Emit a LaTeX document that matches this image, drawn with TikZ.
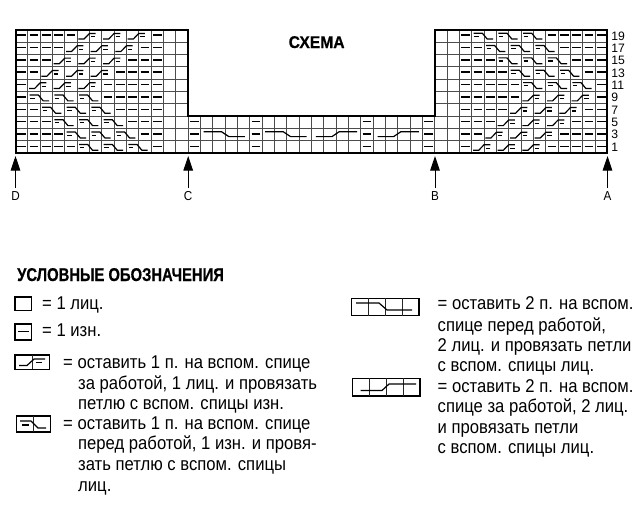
\documentclass[tikz,border=0pt]{standalone}
\usepackage{fontspec}
\usetikzlibrary{arrows.meta}
\setmainfont{Liberation Sans}
\newfontfamily\narrowfont[FakeStretch=0.90]{Liberation Sans}
\newfontfamily\headfont[FakeStretch=0.80,FakeBold=0.5]{Liberation Sans Bold}
\newfontfamily\titlefont[FakeStretch=0.92,FakeBold=0.5]{Liberation Sans Bold}
\tikzset{
  gridline/.style={draw=black!70,line width=0.9pt},
  outline/.style={draw=black,line width=2pt,line join=miter},
  dashmark/.style={draw=black,line width=1.5pt},
  stitch/.style={draw=black,line width=1.2pt,line join=round},
  legendbox/.style={draw=black,line width=1.2pt},
  legendgrid/.style={draw=black!85,line width=1pt},
  notetext/.style={anchor=base west,inner sep=0pt,font=\narrowfont\fontsize{18.5}{20}\selectfont},
  headtext/.style={anchor=base west,inner sep=0pt},
  rownum/.style={anchor=west,inner sep=0pt,font=\fontsize{12.2}{12.2}\selectfont},
  arrowlab/.style={inner sep=0pt,font=\narrowfont\fontsize{13}{14}\selectfont},
  marker/.style={draw=black,line width=1pt,-{Triangle[length=14.5pt,width=9.5pt]}}
}
\newcommand{\dsh}[2]{\draw[dashmark] (#1+.15,#2+.44) -- (#1+.85,#2+.44);}
\newcommand{\ups}[2]{%
  \draw[stitch] (#1+.1,#2+.76) -- (#1+.55,#2+.76) -- (#1+1,#2+.3) -- (#1+1.5,#2+.3);
  \draw[stitch] (#1+1.12,#2+.58) -- (#1+1.46,#2+.58);}
\newcommand{\dns}[2]{%
  \draw[stitch] (#1+.15,#2+.28) -- (#1+.85,#2+.28) -- (#1+1.25,#2+.76) -- (#1+1.72,#2+.76);
  \draw[stitch] (#1+.2,#2+.54) -- (#1+.55,#2+.54);}
% one chart row: #1 = up/down macro, #2 = row, #3 = first dash col, #4 = first cable col, #5 = last dash col
\newcommand{\chartrow}[5]{%
  \pgfmathtruncatemacro{\rla}{#4-1}%
  \pgfmathtruncatemacro{\rsb}{#4+2}%
  \pgfmathtruncatemacro{\rsc}{#4+4}%
  \pgfmathtruncatemacro{\rsd}{#4+6}%
  \foreach \cc in {#3,...,\rla} {\dsh{\cc}{#2}}%
  #1{#4}{#2}#1{\rsb}{#2}#1{\rsc}{#2}%
  \foreach \cc in {\rsd,...,#5} {\dsh{\cc}{#2}}%
}
\begin{document}
\begin{tikzpicture}[x=1pt,y=-1pt]
\useasboundingbox (0,0) rectangle (639,506);
\fill[white] (0,0) rectangle (639,506);
\begin{scope}[shift={(15.5,29.7)},x=12.333pt,y=-12.36pt]
  % grid
  \foreach \cc in {1,...,13,35,36,...,47} {\draw[gridline] (\cc,0) -- (\cc,10);}
  \foreach \cc in {14,...,34} {\draw[gridline] (\cc,7) -- (\cc,10);}
  \foreach \rr in {1,...,7} {\draw[gridline] (0,\rr) -- (14,\rr); \draw[gridline] (34,\rr) -- (48,\rr);}
  \foreach \rr in {8,9} {\draw[gridline] (0,\rr) -- (48,\rr);}
  \draw[outline] (0,0) -- (14,0) -- (14,7) -- (34,7) -- (34,0) -- (48,0) -- (48,10) -- (0,10) -- cycle;
  % left panel
  \foreach \rr/\aa in {0/5,1/4,2/3,3/2,4/1} {\chartrow{\ups}{\rr}{0}{\aa}{11}}
  \foreach \rr/\aa in {5/1,6/2,7/3,8/4,9/5} {\chartrow{\dns}{\rr}{0}{\aa}{11}}
  % right panel
  \foreach \rr/\aa in {0/37,1/38,2/39,3/40,4/41} {\chartrow{\dns}{\rr}{36}{\aa}{47}}
  \foreach \rr/\aa in {5/41,6/40,7/39,8/38,9/37} {\chartrow{\ups}{\rr}{36}{\aa}{47}}
  % middle panel
  \foreach \cc in {14,19,28,33} {\foreach \rr in {7,8,9} {\dsh{\cc}{\rr}}}
  \foreach \cc in {15,20} {
    \draw[stitch] (\cc+.25,8.25) -- (\cc+1.7,8.25) -- (\cc+2.3,8.65) -- (\cc+3.6,8.65);}
  \foreach \cc in {24,29} {
    \draw[stitch] (\cc+.36,8.65) -- (\cc+1.66,8.65) -- (\cc+2.25,8.25) -- (\cc+3.7,8.25);}
  % row numbers
  \foreach \nn/\rr in {19/0,17/1,15/2,13/3,11/4,9/5,7/6,5/7,3/8,1/9} {
    \node[rownum] (row\nn) at (48.3,\rr+.5) {\nn};}
\end{scope}
\node[headtext] (title) at (288.5,48) {\titlefont\fontsize{17}{18}\selectfont СХЕМА};
% arrows
\foreach \nn/\xx/\lab in {d/15.5/D,c/188.2/C,b/435/B,a/607.5/A}{
  \coordinate (tail\nn) at (\xx,188);
  \coordinate (tip\nn) at (\xx,156);
  \draw[marker] (tail\nn) -- (tip\nn);
  \node[arrowlab] (lab\nn) at (\xx,196.5) {\lab};
}
% legend
\node[headtext] (legendhead) at (17,281) {\headfont\fontsize{18.5}{18}\selectfont УСЛОВНЫЕ ОБОЗНАЧЕНИЯ};
\draw[legendbox] (15,297) rectangle (31.7,310.7);
\node[notetext] (k1) at (42,309) {= 1 лиц.};
\draw[legendbox] (15,324) rectangle (31.7,340);
\draw[stitch] (18,331.5) -- (29,331.5);
\node[notetext] (p1) at (42,336) {= 1 изн.};
% cross up
\draw[legendbox] (15,355) rectangle (49.3,369.3);
\draw[legendgrid] (32.3,355) -- (32.3,369.3);
\draw[stitch] (19,365.5) -- (27,365.5) -- (34,359) -- (45,359);
\draw[stitch] (36,362.5) -- (42,362.5);
% cross down
\draw[legendbox] (16.7,416) rectangle (50.7,432);
\draw[legendgrid] (33.7,416) -- (33.7,432);
\draw[stitch] (20,421) -- (31,421) -- (38,428) -- (46,428);
\draw[stitch] (22,425) -- (29,425);
\node[notetext] (t1) at (63,368.5) {= оставить 1 п. на вспом. спице};
\node[notetext] (t2) at (78,389) {за работой, 1 лиц. и провязать};
\node[notetext] (t3) at (78,409) {петлю с вспом. спицы изн.};
\node[notetext] (t4) at (63,429) {= оставить 1 п. на вспом. спице};
\node[notetext] (t5) at (78,449) {перед работой, 1 изн. и провя-};
\node[notetext] (t6) at (78,470) {зать петлю с вспом. спицы};
\node[notetext] (t7) at (78,491) {лиц.};
% right legend
\draw[legendbox] (351.7,298.3) rectangle (419,315.7);
\foreach \xx in {368.5,385.3,402.3} {\draw[legendgrid] (\xx,298.3) -- (\xx,315.7);}
\draw[stitch] (356,303) -- (379,303) -- (387,310) -- (412,310);
\draw[legendbox] (352.7,378.3) rectangle (420,396);
\foreach \xx in {369.5,386.3,403.3} {\draw[legendgrid] (\xx,378.3) -- (\xx,396);}
\draw[stitch] (360.5,390.5) -- (382,390.5) -- (389,384) -- (416,384);
\node[notetext] (r1) at (437.5,309) {= оставить 2 п. на вспом.};
\node[notetext] (r2) at (437.5,331) {спице перед работой,};
\node[notetext] (r3) at (437.5,351) {2 лиц. и провязать петли};
\node[notetext] (r4) at (437.5,371) {с вспом. спицы лиц.};
\node[notetext] (r5) at (437.5,392) {= оставить 2 п. на вспом.};
\node[notetext] (r6) at (437.5,412.5) {спице за работой, 2 лиц.};
\node[notetext] (r7) at (437.5,433) {и провязать петли};
\node[notetext] (r8) at (437.5,453) {с вспом. спицы лиц.};
\end{tikzpicture}
\end{document}
